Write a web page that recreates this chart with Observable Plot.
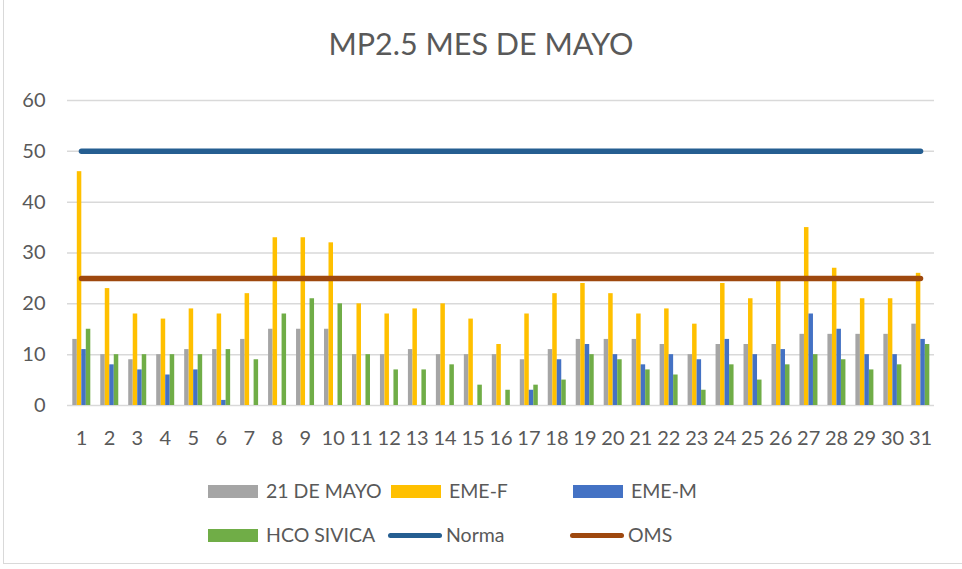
<!DOCTYPE html>
<html>
<head>
<meta charset="utf-8">
<script src="https://cdn.jsdelivr.net/npm/d3@7"></script>
<script src="https://cdn.jsdelivr.net/npm/@observablehq/plot@0.6"></script>
<style>
  html, body { margin: 0; padding: 0; background: #fff; }
  #root { position: relative; width: 962px; height: 569px; overflow: hidden; font-family: Lato, "Open Sans", sans-serif; color: #595959; }
  #border { position: absolute; left: 3px; top: -2px; width: 970px; height: 566px; border-left: 1px solid #D9D9D9; border-bottom: 1px solid #D9D9D9; box-sizing: border-box; }
  #title { position: absolute; left: 0; top: 23px; width: 962px; text-align: center; font-size: 30.5px; line-height: 40px; color: #595959; }
  #chart { position: absolute; left: 0; top: 0; }
  .leg { position: absolute; display: flex; align-items: center; font-size: 19.5px; line-height: 24px; white-space: nowrap; color: #595959; }
  .sw { display: inline-block; width: 50px; height: 13px; margin-right: 8px; }
  .ln { display: inline-block; width: 54px; height: 5px; border-radius: 3px; margin-right: 4px; }
</style>
</head>
<body>
<div id="root">
  <div id="border"></div>
  <div id="title">MP2.5 MES DE MAYO</div>
  <div id="chart"></div>
  <div id="legend"></div>
</div>
<script>
// Categories (days of May)
const days = ["1","2","3","4","5","6","7","8","9","10","11","12","13","14","15","16","17","18","19","20","21","22","23","24","25","26","27","28","29","30","31"];

// Series values (µg/m³)
const mayo21 = [13,10,9,10,11,11,13,15,15,15,10,10,11,10,10,10,9,11,13,13,13,12,10,12,12,12,14,14,14,14,16];
const emeF   = [46,23,18,17,19,18,22,33,33,32,20,18,19,20,17,12,18,22,24,22,18,19,16,24,21,25,35,27,21,21,26];
const emeM   = [11,8,7,6,7,1,null,null,null,null,null,null,null,null,null,null,3,9,12,10,8,10,9,13,10,11,18,15,10,10,13];
const hco    = [15,10,10,10,10,11,9,18,21,20,10,7,7,8,4,3,4,5,10,9,7,6,3,8,5,8,10,9,7,8,12];

// Reference limits
const normaValue = 50;
const omsValue = 25;

// Axis ticks
const yTicks = [0,10,20,30,40,50,60];

// Series names and colours
const seriesNames = ["21 DE MAYO","EME-F","EME-M","HCO SIVICA"];
const seriesColors = ["#A5A5A5","#FFC000","#4472C4","#70AD47"];
const lineNames = ["Norma","OMS"];
const lineColors = ["#255E91","#9E480E"];

const seriesValues = [mayo21, emeF, emeM, hco];
const tables = seriesValues.map(vals => days.map((d, i) => ({day: d, value: vals[i]})));

const bw = 867 / 31;
const barW = 4.5;
const start = 5.3;

const barMarks = tables.map((t, i) => Plot.barY(t, {
  x: "day",
  y: "value",
  fill: seriesColors[i],
  insetLeft: start + i * barW,
  insetRight: bw - start - (i + 1) * barW
}));

const chart = Plot.plot({
  width: 962,
  height: 460,
  marginTop: 100,
  marginBottom: 55,
  marginLeft: 67,
  marginRight: 28,
  style: {fontFamily: "Lato, 'Open Sans', sans-serif", fontSize: "20px", color: "#595959", background: "transparent", overflow: "visible"},
  x: {domain: days, padding: 0, tickSize: 0, tickPadding: 25, label: null},
  y: {domain: [0, 60], ticks: yTicks, tickSize: 0, tickPadding: 22, label: null},
  marks: [
    Plot.ruleY(yTicks, {stroke: "#D9D9D9", strokeWidth: 1.5}),
    ...barMarks,
    Plot.line(days, {x: d => d, y: () => normaValue, stroke: lineColors[0], strokeWidth: 5.5, strokeLinecap: "round"}),
    Plot.line(days, {x: d => d, y: () => omsValue, stroke: lineColors[1], strokeWidth: 5.5, strokeLinecap: "round"})
  ]
});
document.getElementById("chart").appendChild(chart);

// Legend
const legend = document.getElementById("legend");
const legendItems = [
  {name: seriesNames[0], color: seriesColors[0], kind: "sw", left: 208, top: 479},
  {name: seriesNames[1], color: seriesColors[1], kind: "sw", left: 391, top: 479},
  {name: seriesNames[2], color: seriesColors[2], kind: "sw", left: 573, top: 479},
  {name: seriesNames[3], color: seriesColors[3], kind: "sw", left: 208, top: 523},
  {name: lineNames[0], color: lineColors[0], kind: "ln", left: 388, top: 523},
  {name: lineNames[1], color: lineColors[1], kind: "ln", left: 570, top: 523}
];
for (const it of legendItems) {
  const el = document.createElement("div");
  el.className = "leg";
  el.style.left = it.left + "px";
  el.style.top = it.top + "px";
  const s = document.createElement("span");
  s.className = it.kind;
  s.style.background = it.color;
  el.appendChild(s);
  const t = document.createElement("span");
  t.textContent = it.name;
  el.appendChild(t);
  legend.appendChild(el);
}
</script>
</body>
</html>
